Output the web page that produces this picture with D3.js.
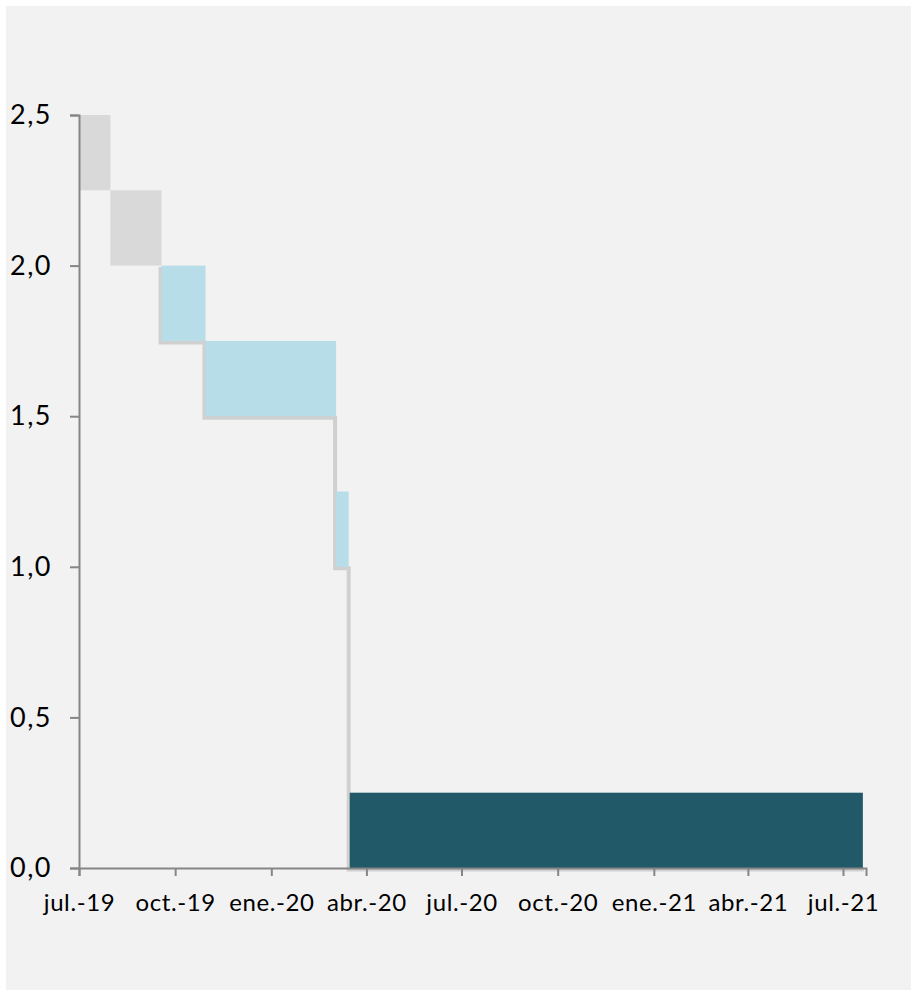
<!DOCTYPE html>
<html>
<head>
<meta charset="utf-8">
<script src="https://cdn.jsdelivr.net/npm/d3@7"></script>
<style>
  html, body { margin: 0; padding: 0; background: #ffffff; }
  svg { display: block; }
  .lbl { font-family: Lato, "Open Sans", sans-serif; fill: #000; }
</style>
</head>
<body>
<svg id="chart" width="911" height="990"></svg>
<script>
// Target range of the policy rate (%), one entry per period between decisions
const periodStart = ["2019-07-01", "2019-07-31", "2019-09-18", "2019-10-30", "2020-03-03", "2020-03-16"];
const periodEnd   = ["2019-07-31", "2019-09-18", "2019-10-30", "2020-03-03", "2020-03-15", "2021-07-20"];
const lowerBound  = [2.25, 2.00, 1.75, 1.50, 1.00, 0.00];
const upperBound  = [2.50, 2.25, 2.00, 1.75, 1.25, 0.25];
const periodGroup = ["previo", "previo", "recorte", "recorte", "recorte", "minimo"];

// Axis ticks
const xTickDates  = ["2019-07-01", "2019-10-01", "2020-01-01", "2020-04-01", "2020-07-01",
                     "2020-10-01", "2021-01-01", "2021-04-01", "2021-07-01"];
const xTickLabels = ["jul.-19", "oct.-19", "ene.-20", "abr.-20", "jul.-20",
                     "oct.-20", "ene.-21", "abr.-21", "jul.-21"];
const yTickValues = [0, 0.5, 1.0, 1.5, 2.0, 2.5];

const parse = d3.utcParse("%Y-%m-%d");
const periods = periodStart.map((s, i) => ({
  start: parse(s), end: parse(periodEnd[i]),
  lo: lowerBound[i], hi: upperBound[i], group: periodGroup[i]
}));

const svg = d3.select("#chart");
const W = 911, H = 990;

// panel background
svg.append("rect").attr("x", 6).attr("y", 6).attr("width", W - 6).attr("height", H - 6)
  .attr("fill", "#f2f2f2");

const x = d3.scaleUtc()
  .domain([parse("2019-07-01"), parse("2021-07-23")])
  .range([79, 866]);
const y = d3.scaleLinear().domain([0, 2.5]).range([868, 115]);

const color = d3.scaleOrdinal()
  .domain(["previo", "recorte", "minimo"])
  .range(["#d9d9d9", "#b7dde8", "#215968"]);

const esLocale = d3.formatLocale({ decimal: ",", thousands: ".", grouping: [3], currency: ["", " €"] });
const fmt = esLocale.format(".1f");

// lower-bound step line (drawn beneath the bands, slightly offset)
const stepPts = [{ d: periods[2].start, v: periods[1].lo }];
periods.slice(2).forEach(p => stepPts.push({ d: p.start, v: p.lo }));
stepPts.push({ d: d3.utcDay.offset(periods[periods.length - 1].end, 2), v: 0 });
svg.append("path")
  .datum(stepPts)
  .attr("transform", "translate(-1,1.5)")
  .attr("fill", "none")
  .attr("stroke", "#d0d0d0")
  .attr("stroke-width", 4)
  .attr("d", d3.line().x(p => x(p.d)).y(p => y(p.v)).curve(d3.curveStepAfter));

// bands
svg.append("g").selectAll("rect")
  .data(periods)
  .join("rect")
  .attr("x", p => x(p.start))
  .attr("y", p => y(p.hi))
  .attr("width", p => x(p.end) - x(p.start))
  .attr("height", p => y(p.lo) - y(p.hi))
  .attr("fill", p => color(p.group));

// axes
const axisColor = "#868686";
const yAxis = svg.append("g").attr("transform", "translate(79,0)")
  .call(d3.axisLeft(y).tickValues(yTickValues).tickFormat(fmt).tickSize(9).tickPadding(18));
const xAxis = svg.append("g").attr("transform", "translate(0,868)")
  .call(d3.axisBottom(x).tickValues(xTickDates.map(parse))
        .tickFormat((d, i) => xTickLabels[i]).tickSize(8).tickPadding(18));

[yAxis, xAxis].forEach(g => {
  g.select(".domain").attr("stroke", axisColor).attr("stroke-width", 2);
  g.selectAll(".tick line").attr("stroke", axisColor).attr("stroke-width", 2);
  g.selectAll(".tick text").attr("class", "lbl").attr("fill", "#000");
});
yAxis.selectAll(".tick text").style("font-size", "27px").style("letter-spacing", "1.5px");
xAxis.selectAll(".tick text").style("font-size", "24px").style("letter-spacing", "0.6px");
</script>
</body>
</html>
